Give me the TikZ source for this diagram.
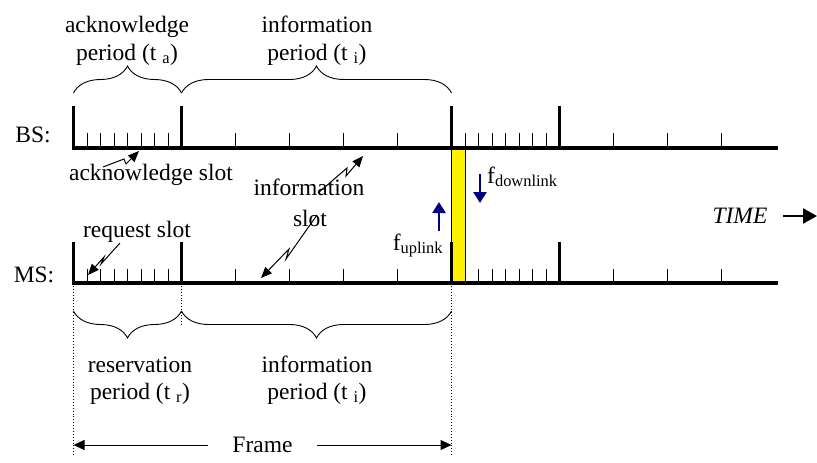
\documentclass[tikz,border=0pt]{standalone}
\usepackage{fontspec}
\setmainfont{Liberation Serif}
\usetikzlibrary{decorations.pathreplacing,arrows.meta}
\definecolor{navyarrow}{RGB}{0,0,128}
\begin{document}
\begin{tikzpicture}[x=1pt,y=-1pt,
  txt/.style={inner sep=0pt, anchor=base, font=\fontsize{23.5}{28}\selectfont},
  mainline/.style={line width=3.5pt},
  tallmark/.style={line width=3pt},
  smalltick/.style={line width=1pt},
  brc/.style={decorate, decoration={brace, amplitude=27pt}, line width=0.9pt},
  bolt/.style={line width=1pt, -{Triangle[length=11pt,width=9pt]}},
  dotline/.style={dotted, line width=0.9pt},
  bluearrow/.style={line width=2.5pt, draw=navyarrow, -{Triangle[length=11pt,width=13pt]}, color=navyarrow},
  framearrow/.style={line width=1pt, -{Triangle[length=11pt,width=10pt]}},
  timearrow/.style={line width=2.5pt, -{Triangle[length=14pt,width=15pt]}}
]
\useasboundingbox (0,0) rectangle (817,463);

% yellow channel gap
\filldraw[fill=yellow, draw=black, line width=0.8pt] (451.5,148) rectangle (465,283);

% timelines
\foreach \ly/\th/\sh in {148/106/133, 283/242/269} {
  \draw[mainline] (72,\ly) -- (778,\ly);
  \foreach \xx in {73.5,181.5,451.5,559.5}
    \draw[tallmark] (\xx,\ly) -- (\xx,\th);
  \foreach \k in {1,...,7} {
    \draw[smalltick] (73.5+13.5*\k,\ly) -- (73.5+13.5*\k,\sh);
    \draw[smalltick] (451.5+13.5*\k,\ly) -- (451.5+13.5*\k,\sh);
  }
  \foreach \k in {1,...,4}
    \draw[smalltick] (181.5+54*\k,\ly) -- (181.5+54*\k,\sh);
  \foreach \k in {1,...,3}
    \draw[smalltick] (559.5+54*\k,\ly) -- (559.5+54*\k,\sh);
}

% station labels
\node[txt] (bs) at (33,142) {BS:};
\node[txt] (ms) at (34,282) {MS:};

% top braces and labels
\draw[brc] (73.5,93) -- (181.5,93);
\draw[brc] (181.5,93) -- (451.5,93);
\node[txt] (ack1) at (127,32) {acknowledge};
\node[txt] (ack2) at (127,60) {period (t \textsubscript{a})};
\node[txt] (inf1) at (317,32) {information};
\node[txt] (inf2) at (317,60) {period (t \textsubscript{i})};

% slot labels
\node[txt] (ackslot) at (151,180) {acknowledge slot};
\node[txt] (infslot1) at (309,195) {information};
\node[txt] (infslot2) at (310,226) {slot};
\node[txt] (reqslot) at (137,237) {request slot};

% lightning arrows
\coordinate (b1s) at (103,167); \coordinate (b1a) at (124,159);
\coordinate (b1b) at (126,164); \coordinate (b1t) at (139,151);
\draw[bolt] (b1s) -- (b1a) -- (b1b) -- (b1t);
\coordinate (b2s) at (318,193); \coordinate (b2a) at (347,168);
\coordinate (b2b) at (346,176); \coordinate (b2t) at (363,156);
\draw[bolt] (b2s) -- (b2a) -- (b2b) -- (b2t);
\coordinate (b3s) at (317,215); \coordinate (b3a) at (286,259);
\coordinate (b3b) at (289,249); \coordinate (b3t) at (261,278);
\draw[bolt] (b3s) -- (b3a) -- (b3b) -- (b3t);
\coordinate (b4s) at (120,243); \coordinate (b4a) at (101,264);
\coordinate (b4b) at (104,257); \coordinate (b4t) at (88,275);
\draw[bolt] (b4s) -- (b4a) -- (b4b) -- (b4t);

% uplink / downlink
\node[txt] (fup) at (418,250) {f\textsubscript{uplink}};
\node[txt, anchor=base west] (fdown) at (487,183) {f\textsubscript{downlink}};
\coordinate (upa) at (439,231); \coordinate (upb) at (439,202);
\draw[bluearrow] (upa) -- (upb);
\coordinate (dna) at (480,174); \coordinate (dnb) at (480,203);
\draw[bluearrow] (dna) -- (dnb);

% time
\node[txt, font=\fontsize{23.5}{28}\selectfont\itshape] (time) at (740,223) {TIME};
\coordinate (ta) at (783,216); \coordinate (tb) at (817,216);
\draw[timearrow] (ta) -- (tb);

% dotted guides
\draw[dotline] (73.5,283) -- (73.5,456);
\draw[dotline] (181.5,283) -- (181.5,326);
\draw[dotline] (451.5,283) -- (451.5,456);

% bottom braces and labels
\draw[brc] (181.5,311) -- (73.5,311);
\draw[brc] (451.5,311) -- (181.5,311);
\node[txt] (res1) at (140,372) {reservation};
\node[txt] (res2) at (140,399) {period (t \textsubscript{r})};
\node[txt] (inf3) at (317,372) {information};
\node[txt] (inf4) at (317,399) {period (t \textsubscript{i})};

% frame
\node[font=\fontsize{23.5}{28}\selectfont, inner ysep=0pt, inner xsep=24pt] (frame) at (262.5,445) {Frame};
\coordinate (fl) at (73.5,445); \coordinate (fr) at (451.5,445);
\draw[framearrow] (frame.west) -- (fl);
\draw[framearrow] (frame.east) -- (fr);
\end{tikzpicture}
\end{document}
